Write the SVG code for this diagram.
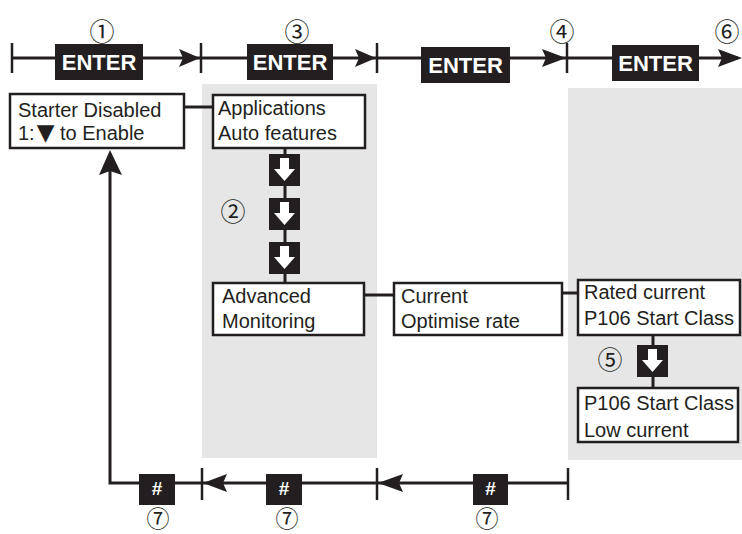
<svg xmlns="http://www.w3.org/2000/svg" width="742" height="534" viewBox="0 0 742 534">
<style>
.panel{fill:#e6e6e6}
.box{fill:#fff;stroke:#231f20;stroke-width:2.5}
.t{font-family:"Liberation Sans",Arial,sans-serif;font-size:20px;fill:#231f20}
.tri{font-family:"DejaVu Sans",sans-serif;font-size:23px}
.key{fill:#231f20}
.kt{font-family:"Liberation Sans",Arial,sans-serif;font-size:22px;font-weight:bold;fill:#fff;text-anchor:middle}
.ht{font-family:"Liberation Sans",Arial,sans-serif;font-size:19px;font-weight:bold;fill:#fff;text-anchor:middle}
.num{font-family:"Noto Sans CJK JP","DejaVu Sans",sans-serif;font-size:25px;fill:#231f20;text-anchor:middle}
.num7{font-size:23px}
.ln{stroke:#231f20;stroke-width:3;fill:none}
.tick{stroke:#231f20;stroke-width:2.5}
.ah{fill:#231f20}
</style>
<defs>
<g id="dn">
<rect x="0" y="0" width="31" height="32" fill="#231f20"/>
<rect x="11" y="4" width="9" height="13" fill="#fff"/>
<polygon points="5,15 26,15 15.5,27" fill="#fff"/>
</g>
</defs>
<rect class="panel" x="202" y="84" width="175" height="374"/>
<rect class="panel" x="568" y="88" width="174" height="372"/>
<g id="connectors">
<line class="ln" x1="12" y1="58" x2="738" y2="58"/>
<line class="tick" x1="12" y1="43" x2="12" y2="73"/>
<line class="tick" x1="201" y1="43" x2="201" y2="73"/>
<line class="tick" x1="377" y1="43" x2="377" y2="73"/>
<line class="tick" x1="567" y1="43" x2="567" y2="73"/>
<polygon class="ah" points="200,58 179,49 183,58 179,67"/>
<polygon class="ah" points="376,58 355,49 359,58 355,67"/>
<polygon class="ah" points="566,58 542,49 546,58 542,67"/>
<polygon class="ah" points="742,58 718,49 722,58 718,67"/>
<line class="ln" x1="184" y1="107" x2="213" y2="107"/>
<line class="ln" x1="285" y1="148" x2="285" y2="283"/>
<line class="ln" x1="364" y1="295" x2="394" y2="295"/>
<line class="ln" x1="562" y1="293" x2="578" y2="293"/>
<line class="ln" x1="653" y1="335" x2="653" y2="388"/>
<polyline class="ln" points="110,170 110,483 568,483"/>
<polygon class="ah" points="110,150 99,175 110,171 122,175"/>
<line class="tick" x1="202" y1="468" x2="202" y2="500"/>
<line class="tick" x1="377" y1="468" x2="377" y2="500"/>
<line class="tick" x1="568" y1="468" x2="568" y2="500"/>
<polygon class="ah" points="203,483 227,474 223,483 227,492"/>
<polygon class="ah" points="378,483 403,474 399,483 403,492"/>
</g>
<g id="enter1"><rect class="key" x="55" y="44" width="88" height="36"/><text class="kt" x="99" y="70">ENTER</text></g>
<g id="enter2"><rect class="key" x="247" y="44" width="86" height="36"/><text class="kt" x="290" y="70">ENTER</text></g>
<g id="enter3"><rect class="key" x="421" y="47" width="89" height="36"/><text class="kt" x="465.5" y="73">ENTER</text></g>
<g id="enter4"><rect class="key" x="612" y="45" width="87" height="36"/><text class="kt" x="655.5" y="71">ENTER</text></g>
<g id="labels">
<text class="num" x="102" y="41">①</text>
<text class="num" x="297" y="41">③</text>
<text class="num" x="562" y="41">④</text>
<text class="num" x="727" y="41">⑥</text>
<text class="num" x="233" y="221">②</text>
<text class="num" x="610" y="369">⑤</text>
<text class="num num7" x="158" y="527">⑦</text>
<text class="num num7" x="287" y="527">⑦</text>
<text class="num num7" x="487" y="527">⑦</text>
</g>
<g id="starter"><rect class="box" x="10" y="94" width="174" height="54"/><text class="t" x="18" y="117">Starter Disabled</text><text class="t" x="18" y="140">1:<tspan class="tri" dx="2">▼</tspan> to Enable</text></g>
<g id="applications"><rect class="box" x="213" y="95" width="152" height="53"/><text class="t" x="218" y="115">Applications</text><text class="t" x="218" y="140">Auto features</text></g>
<g id="down1"><use href="#dn" x="269" y="154"/></g>
<g id="down2"><use href="#dn" x="269" y="198"/></g>
<g id="down3"><use href="#dn" x="269" y="242"/></g>
<g id="advanced"><rect class="box" x="213" y="283" width="151" height="52"/><text class="t" x="222" y="303">Advanced</text><text class="t" x="222" y="328">Monitoring</text></g>
<g id="current"><rect class="box" x="394" y="283" width="168" height="52"/><text class="t" x="401" y="303">Current</text><text class="t" x="401" y="328">Optimise rate</text></g>
<g id="rated"><rect class="box" x="578" y="280" width="162" height="55"/><text class="t" x="584" y="299">Rated current</text><text class="t" x="584" y="325">P106 Start Class</text></g>
<g id="down5"><use href="#dn" x="637" y="345"/></g>
<g id="lowcurrent"><rect class="box" x="578" y="388" width="160" height="54"/><text class="t" x="584" y="410">P106 Start Class</text><text class="t" x="584" y="437">Low current</text></g>
<g id="hash1"><rect class="key" x="139" y="474" width="36" height="31"/><text class="ht" x="157" y="495">#</text></g>
<g id="hash2"><rect class="key" x="266" y="474" width="36" height="31"/><text class="ht" x="284" y="495">#</text></g>
<g id="hash3"><rect class="key" x="473" y="474" width="35" height="31"/><text class="ht" x="490.5" y="495">#</text></g>
</svg>
